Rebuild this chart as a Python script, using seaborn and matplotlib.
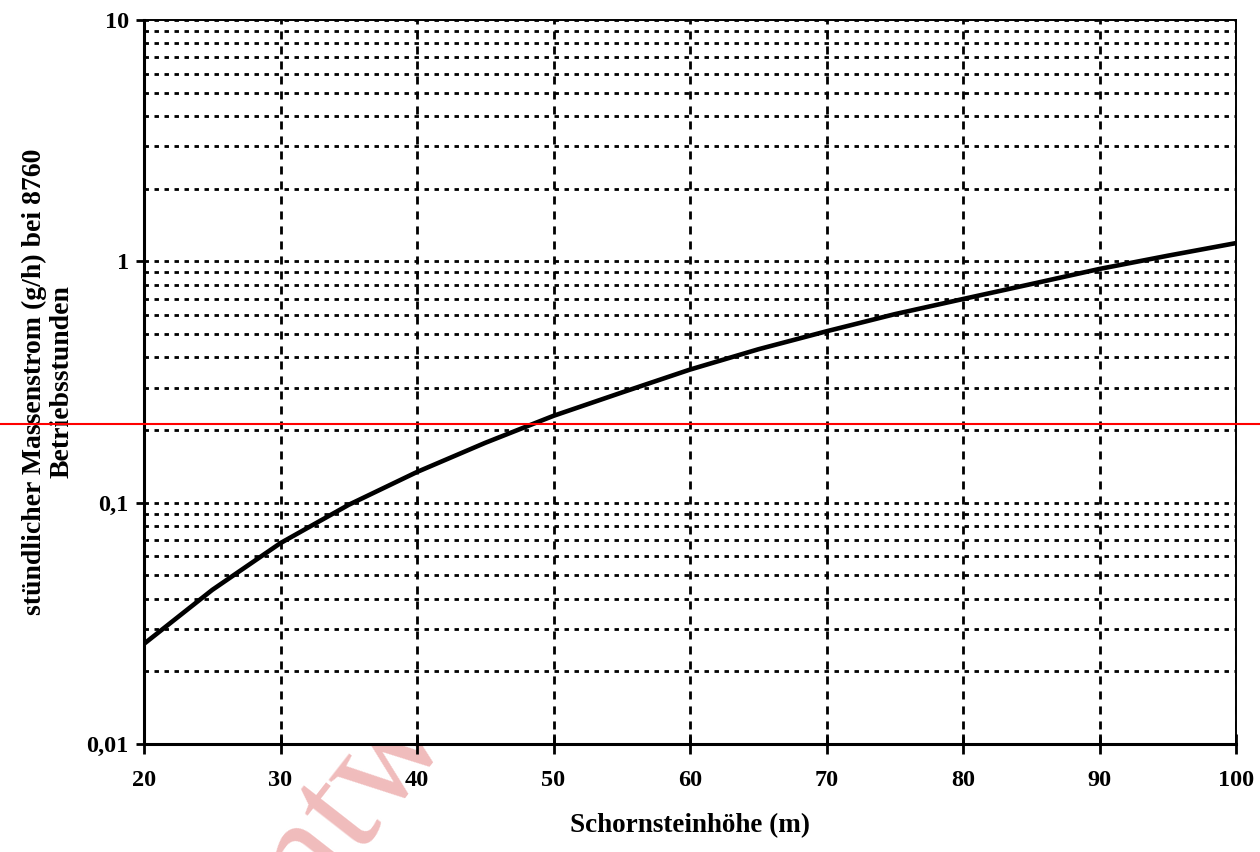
import numpy as np
import pandas as pd
import matplotlib
matplotlib.use("Agg")
import matplotlib.pyplot as plt
import seaborn as sns
from matplotlib.ticker import FixedLocator, FixedFormatter, LogLocator, NullFormatter

# Chart data
hoehe = [20, 25, 30, 35, 40, 45, 50, 55, 60, 65, 70, 75, 80, 85, 90, 95, 100]
massenstrom = [0.026, 0.0435, 0.068, 0.098, 0.134, 0.177, 0.229, 0.286, 0.356,
               0.432, 0.513, 0.604, 0.698, 0.805, 0.93, 1.055, 1.19]
grenzwert = 0.212

x_ticks = [20, 30, 40, 50, 60, 70, 80, 90, 100]
y_ticks = [0.01, 0.1, 1, 10]
y_tick_labels = ["0,01", "0,1", "1", "10"]

df = pd.DataFrame({"hoehe": hoehe, "massenstrom": massenstrom})

sns.set_theme(style="white")
plt.rcParams["font.family"] = ["Liberation Serif", "DejaVu Serif"]
plt.rcParams["font.weight"] = "bold"
plt.rcParams["text.color"] = "black"
plt.rcParams["axes.labelcolor"] = "black"
plt.rcParams["xtick.color"] = "black"
plt.rcParams["ytick.color"] = "black"

fig = plt.figure(figsize=(12.6, 8.52), dpi=100, facecolor="white")
ax = fig.add_axes([144 / 1260, 1 - 744 / 852, 1092 / 1260, 724 / 852])
ax.set_facecolor("white")

# watermark behind the plot area
fig.text(0.30, 0.10, "Entwurf", fontsize=110, color="#f0bcbc", rotation=52,
         ha="center", va="center", zorder=-1, fontweight="normal")

sns.lineplot(data=df, x="hoehe", y="massenstrom", color="black", linewidth=3.3,
             ax=ax, zorder=4)

ax.set_yscale("log")
ax.set_xlim(20, 100)
ax.set_ylim(0.01, 10)

ax.xaxis.set_major_locator(FixedLocator(x_ticks))
ax.yaxis.set_major_locator(FixedLocator(y_ticks))
ax.yaxis.set_major_formatter(FixedFormatter(y_tick_labels))
ax.yaxis.set_minor_locator(LogLocator(base=10, subs=range(2, 10)))
ax.yaxis.set_minor_formatter(NullFormatter())

# dotted grid
ax.grid(True, axis="y", which="both", color="black", linewidth=2.0,
        linestyle=(0, (1.6, 2.0)))
ax.grid(True, axis="x", which="major", color="black", linewidth=2.0,
        linestyle=(0, (2.9, 2.5)))
ax.set_axisbelow(True)

for side in ["left", "bottom"]:
    ax.spines[side].set_linewidth(2.2)
    ax.spines[side].set_color("black")
for side in ["top", "right"]:
    ax.spines[side].set_linewidth(1.4)
    ax.spines[side].set_color("black")

ax.tick_params(axis="x", which="major", direction="inout", length=14, width=2,
               color="black", pad=12, labelsize=17.5, bottom=True)
ax.tick_params(axis="y", which="major", direction="out", length=6, width=2,
               color="black", pad=5, labelsize=17.5, left=True)
ax.tick_params(axis="y", which="minor", left=False)
for lbl in ax.get_xticklabels() + ax.get_yticklabels():
    lbl.set_fontweight("bold")

ax.set_xlabel("Schornsteinhöhe (m)", fontsize=19.5, fontweight="bold")
ax.set_ylabel("stündlicher Massenstrom (g/h) bei 8760\nBetriebsstunden",
              fontsize=20, fontweight="bold", linespacing=1.1)
ax.xaxis.set_label_coords(0.5, -0.096)
ax.yaxis.set_label_coords(-0.064, 0.5)

# red reference line across the whole picture
ax.axhline(grenzwert, xmin=-0.14, xmax=1.03, color="red", linewidth=1.5,
           clip_on=False, zorder=6)

fig.savefig("out.png", dpi=100, facecolor="white")
